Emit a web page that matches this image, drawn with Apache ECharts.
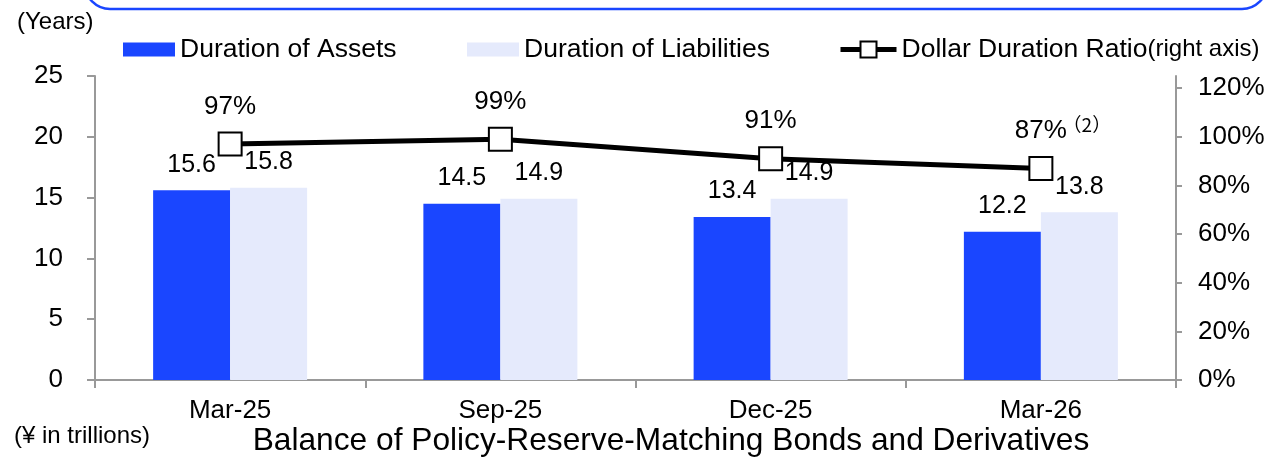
<!DOCTYPE html>
<html>
<head>
<meta charset="utf-8">
<script src="https://cdn.jsdelivr.net/npm/echarts@6/dist/echarts.min.js"></script>
<style>
  html, body { margin: 0; padding: 0; background: #fff; }
  #chart { width: 1273px; height: 459px; }
</style>
</head>
<body>
<div id="chart"></div>
<script>
// Reporting dates on the category axis
const categories = ['Mar-25', 'Sep-25', 'Dec-25', 'Mar-26'];
// Durations in years (left axis)
const assetDuration = [15.6, 14.5, 13.4, 12.2];
const liabilityDuration = [15.8, 14.9, 14.9, 13.8];
// Dollar duration ratio in percent (right axis)
const dollarDurationRatio = [97, 99, 91, 87];
// Footnote markers attached to ratio labels
const ratioNotes = ['', '', '', '（2）'];
// Tick values
const leftTicks = [0, 5, 10, 15, 20, 25];
const rightTicks = [0, 20, 40, 60, 80, 100, 120];

const FONT = "'Liberation Sans', Arial, sans-serif";
const BLUE = '#1a46ff';
const PALE = '#e5eafc';
const AXIS_GRAY = '#999999';

const chart = echarts.init(document.getElementById('chart'), null, { renderer: 'canvas' });

const legendText = { fontFamily: FONT, fontSize: 26.5, color: '#000' };

chart.setOption({
  animation: false,
  textStyle: { fontFamily: FONT },
  grid: { left: 95, right: 97, top: 76, bottom: 79, containLabel: false },
  legend: [
    {
      data: ['Duration of Assets'],
      left: 123, top: 36, padding: 0,
      itemWidth: 52, itemHeight: 14,
      icon: 'rect',
      textStyle: legendText,
      selectedMode: false
    },
    {
      data: ['Duration of Liabilities'],
      left: 467, top: 36, padding: 0,
      itemWidth: 52, itemHeight: 14,
      icon: 'rect',
      textStyle: legendText,
      selectedMode: false
    },
    {
      data: ['Dollar Duration Ratio'],
      left: 838, top: 36, padding: 0,
      itemWidth: 56, itemHeight: 20,
      lineStyle: { width: 5, color: '#000' },
      itemStyle: { borderWidth: 2, borderColor: '#000', color: '#fff' },
      formatter: name => '{a|' + name + '}{b|(right axis)}',
      textStyle: {
        fontFamily: FONT, fontSize: 26.5, color: '#000',
        rich: {
          a: { fontFamily: FONT, fontSize: 26.5, color: '#000' },
          b: { fontFamily: FONT, fontSize: 24, color: '#000' }
        }
      },
      selectedMode: false
    }
  ],
  xAxis: {
    type: 'category',
    data: categories,
    boundaryGap: true,
    axisLine: { lineStyle: { color: AXIS_GRAY, width: 2 } },
    axisTick: { show: true, length: 8, lineStyle: { color: AXIS_GRAY, width: 2 } },
    axisLabel: { fontFamily: FONT, fontSize: 26, color: '#000', margin: 18 },
    splitLine: { show: false }
  },
  yAxis: [
    {
      type: 'value',
      min: leftTicks[0],
      max: leftTicks[leftTicks.length - 1],
      interval: leftTicks[1] - leftTicks[0],
      axisLine: { show: true, lineStyle: { color: AXIS_GRAY, width: 2 } },
      axisTick: { show: true, length: 8, lineStyle: { color: AXIS_GRAY, width: 2 } },
      axisLabel: { fontFamily: FONT, fontSize: 26, color: '#000', margin: 32 },
      splitLine: { show: false }
    },
    {
      type: 'value',
      position: 'right',
      min: 0,
      max: 125,
      interval: 20,
      axisLine: { show: true, lineStyle: { color: AXIS_GRAY, width: 2 } },
      axisTick: { show: true, length: 6, customValues: rightTicks, lineStyle: { color: AXIS_GRAY, width: 2 } },
      axisLabel: {
        fontFamily: FONT, fontSize: 26, color: '#000', margin: 22,
        customValues: rightTicks,
        formatter: v => v + '%'
      },
      splitLine: { show: false }
    }
  ],
  series: [
    {
      name: 'Duration of Assets',
      type: 'bar',
      data: assetDuration,
      barWidth: 77,
      barGap: '0%',
      itemStyle: { color: BLUE },
      label: {
        show: true, position: 'top', distance: 13,
        fontFamily: FONT, fontSize: 25, color: '#000',
        formatter: p => p.value.toFixed(1)
      },
      z: 2
    },
    {
      name: 'Duration of Liabilities',
      type: 'bar',
      data: liabilityDuration,
      barWidth: 77,
      barGap: '0%',
      itemStyle: { color: PALE },
      label: {
        show: true, position: 'top', distance: 13,
        fontFamily: FONT, fontSize: 25, color: '#000',
        formatter: p => p.value.toFixed(1)
      },
      z: 2
    },
    {
      name: 'Dollar Duration Ratio',
      type: 'line',
      yAxisIndex: 1,
      data: dollarDurationRatio,
      symbol: 'rect',
      symbolSize: 23,
      itemStyle: { color: '#fff', borderColor: '#000', borderWidth: 2 },
      lineStyle: { color: '#000', width: 5 },
      label: {
        show: true, position: 'top', distance: 12,
        formatter: p => {
          const note = ratioNotes[p.dataIndex];
          return note
            ? '{pad| }{v|' + p.value + '%}{s|' + note + '}'
            : '{v|' + p.value + '%}';
        },
        rich: {
          v: { fontFamily: FONT, fontSize: 26, color: '#000', lineHeight: 28, verticalAlign: 'bottom' },
          s: { fontFamily: "'Noto Sans CJK JP', " + FONT, fontSize: 19, color: '#000', width: 40, padding: [0, 0, 10, 0], verticalAlign: 'bottom' },
          pad: { width: 40, fontSize: 15, verticalAlign: 'bottom' }
        }
      },
      z: 5
    }
  ],
  graphic: [
    {
      type: 'rect',
      shape: { x: 85, y: -60, width: 1182, height: 69, r: 25 },
      style: { fill: 'none', stroke: BLUE, lineWidth: 2.5 },
      silent: true
    },
    {
      type: 'text',
      left: 17, top: 10,
      style: { text: '(Years)', fontFamily: FONT, fontSize: 24, fill: '#000' }
    },
    {
      type: 'text',
      left: 14, top: 424,
      style: { text: '(¥ in trillions)', fontFamily: FONT, fontSize: 24, fill: '#000' }
    },
    {
      type: 'text',
      x: 671, y: 441,
      style: {
        text: 'Balance of Policy-Reserve-Matching Bonds and Derivatives',
        fontFamily: FONT, fontSize: 31.7, fill: '#000',
        align: 'center', verticalAlign: 'middle'
      }
    }
  ]
});
</script>
</body>
</html>
